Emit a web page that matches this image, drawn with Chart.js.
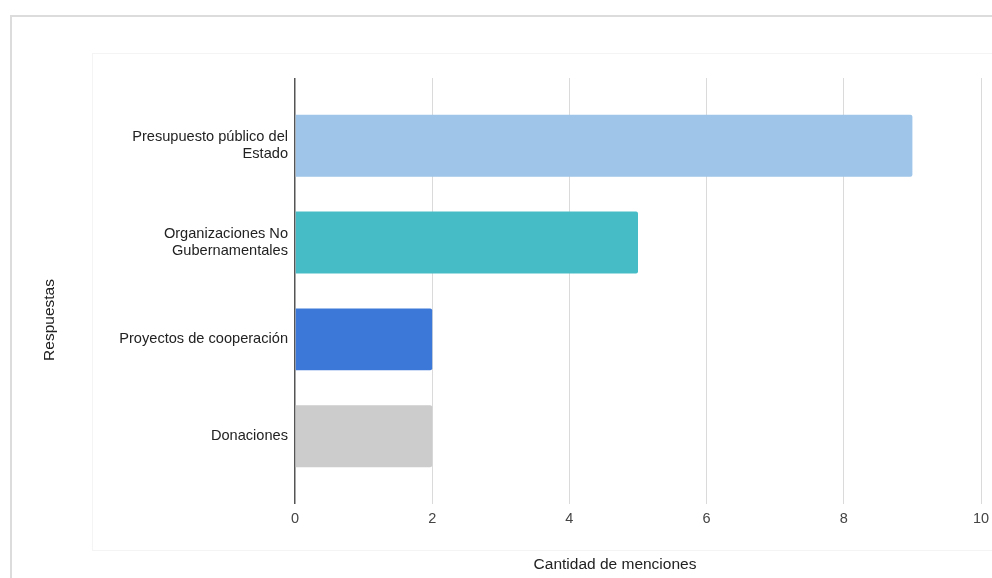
<!DOCTYPE html>
<html>
<head>
<meta charset="utf-8">
<script src="https://cdn.jsdelivr.net/npm/chart.js@4"></script>
<style>
	body { margin: 0; background: #fff; overflow: hidden; }
	#wrap { position: relative; width: 992px; height: 578px; }
	#frame { position: absolute; left: 10px; top: 15px; width: 1000px; height: 600px; border-left: 2px solid #dcdcdc; border-top: 2px solid #dcdcdc; }
	#panel { position: absolute; left: 92px; top: 53px; width: 1000px; height: 496px; border: 1px solid #f4f4f4; background: #fff; }
	canvas { position: absolute; left: 0; top: 0; }
</style>
</head>
<body>
<div id="wrap">
	<div id="frame"></div>
	<div id="panel"></div>
	<canvas id="chart" width="992" height="578"></canvas>
</div>
<script>
// data
const categories = [
	['Presupuesto público del', 'Estado'],
	['Organizaciones No', 'Gubernamentales'],
	'Proyectos de cooperación',
	'Donaciones'
];
const menciones = [9, 5, 2, 2];
const barColors = ['#9fc5e8', '#46bdc6', '#3c78d8', '#cccccc'];
const xTicks = [0, 2, 4, 6, 8, 10];

const xTitle = 'Cantidad de menciones';
const yTitle = 'Respuestas';

const font = "Arial, 'Liberation Sans', sans-serif";

// axis titles are not centred on the plot in the original, draw them by hand
const titlesPlugin = {
	id: 'titles',
	afterDraw(chart) {
		const ctx = chart.ctx;
		ctx.save();
		ctx.fillStyle = '#222';
		ctx.font = `15.5px ${font}`;
		ctx.textAlign = 'center';
		ctx.textBaseline = 'middle';
		ctx.fillText(xTitle, 615, 565);
		ctx.translate(50, 320);
		ctx.rotate(-Math.PI / 2);
		ctx.fillText(yTitle, 0, 0);
		ctx.restore();
	}
};

const points = menciones.map((v, i) => ({ x: v, y: i }));

new Chart(document.getElementById('chart'), {
	type: 'bar',
	data: {
		datasets: [{
			data: points,
			backgroundColor: barColors,
			borderWidth: 0,
			borderRadius: { topRight: 2, bottomRight: 2 },
			borderSkipped: 'start',
			barPercentage: 0.8,
			categoryPercentage: 0.8
		}]
	},
	options: {
		indexAxis: 'y',
		responsive: false,
		animation: false,
		layout: { padding: { top: 78, right: 11, bottom: 0, left: 0 } },
		plugins: {
			legend: { display: false },
			tooltip: { enabled: false }
		},
		scales: {
			x: {
				type: 'linear',
				min: 0,
				max: 10,
				afterBuildTicks: (scale) => {
					scale.ticks = xTicks.map(v => ({ value: v }));
				},
				grid: {
					color: (c) => c.tick && c.tick.value === 0 ? '#555' : '#dadada',
					lineWidth: (c) => c.tick && c.tick.value === 0 ? 1.5 : 1,
					drawTicks: true,
					tickLength: 2,
					tickColor: (c) => c.tick && c.tick.value === 0 ? '#555' : '#dadada'
				},
				border: { display: false },
				ticks: {
					color: '#444',
					font: { family: font, size: 14.5 },
					padding: 6,
					maxRotation: 0
				},
				afterFit: (scale) => {
					scale.height = 76;
					scale.paddingLeft = 0;
					scale.paddingRight = 0;
				}
			},
			y: {
				type: 'linear',
				reverse: true,
				offset: false,
				min: -0.70,
				max: 3.68,
				afterBuildTicks: (scale) => {
					scale.ticks = categories.map((c, i) => ({ value: i }));
				},
				grid: { display: false, drawTicks: false },
				border: { display: false },
				ticks: {
					color: '#222',
					font: { family: font, size: 14.6, lineHeight: 1.15 },
					padding: 7,
					callback: (v) => categories[v]
				},
				afterFit: (scale) => { scale.width = 295; }
			}
		}
	},
	plugins: [titlesPlugin]
});
</script>
</body>
</html>
